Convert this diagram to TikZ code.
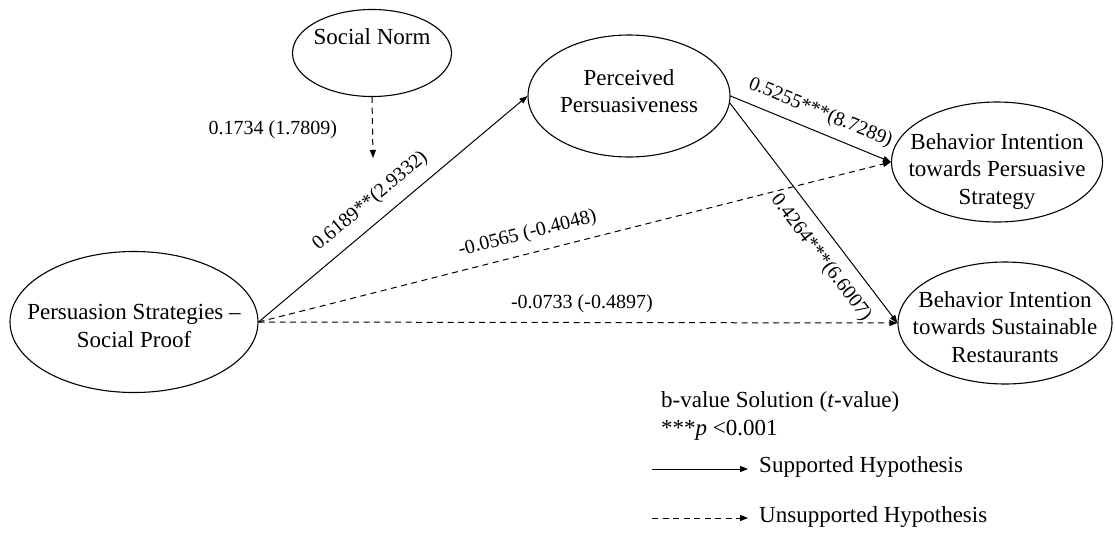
\documentclass[tikz,border=0pt]{standalone}
\usepackage{fontspec}
\setmainfont{Liberation Serif}
\usetikzlibrary{shapes.geometric,arrows.meta}
\begin{document}
\begin{tikzpicture}[x=1pt,y=-1pt,
  construct/.style={ellipse, draw, line width=1.1pt, inner sep=0pt},
  ctext/.style={font=\fontsize{23}{27.5}\selectfont, align=center, inner sep=0pt},
  supported/.style={line width=1pt, -{Triangle[length=8pt,width=6pt]}},
  unsupported/.style={supported, dash pattern=on 6pt off 4.5pt},
  coef/.style={font=\fontsize{20}{24}\selectfont, inner sep=0pt},
  legendtext/.style={font=\fontsize{23}{27.5}\selectfont, anchor=west, inner sep=0pt}
]
\useasboundingbox (0,0) rectangle (1115,533);

% constructs
\node[construct, minimum width=159pt, minimum height=87pt,
      label={[ctext, yshift=16pt]center:Social Norm}] (sn) at (372,53) {};
\node[construct, minimum width=202pt, minimum height=122pt,
      label={[ctext, yshift=5pt]center:Perceived\\Persuasiveness}] (pp) at (629,96) {};
\node[construct, minimum width=211pt, minimum height=120pt,
      label={[ctext, yshift=-9pt]center:Behavior Intention\\towards Persuasive\\Strategy}] (bips) at (997,162) {};
\node[construct, minimum width=248pt, minimum height=141pt,
      label={[ctext, yshift=-4pt]center:Persuasion Strategies --\\Social Proof}] (ps) at (134,322) {};
\node[construct, minimum width=214pt, minimum height=122pt,
      label={[ctext, yshift=-4pt]center:Behavior Intention\\towards Sustainable\\Restaurants}] (bisr) at (1005,323) {};

% paths
\coordinate (snend) at (373,158);
\draw[unsupported] (sn.south) -- node[coef, pos=.54, left=35pt] {0.1734 (1.7809)} (snend);

\draw[supported] (ps.east) -- node[coef, sloped, pos=.465, above=11pt] {0.6189**(2.9332)} (pp.west);
\draw[unsupported] (ps.east) -- node[coef, sloped, pos=.433, above=10pt] {-0.0565 (-0.4048)} (bips.west);
\draw[unsupported] (ps.east) -- node[coef, sloped, pos=.506, above=9pt] {-0.0733 (-0.4897)} (bisr.west);
\draw[supported] (pp.east) -- node[coef, sloped, pos=.516, above=9pt] {0.5255***(8.7289)} (bips.west);
\draw[supported] (pp.-4) -- node[coef, sloped, pos=.645, below=12pt] {0.4264***(6.6007)} (bisr.west);

% legend
\node[legendtext] (note1) at (661,402) {b-value Solution (\textit{t}-value)};
\node[legendtext] (note2) at (661,430) {***\textit{p} <0.001};
\coordinate (s0) at (652,469);
\coordinate (s1) at (748,469);
\draw[supported] (s0) -- (s1);
\node[legendtext] (stxt) at (759,467) {Supported Hypothesis};
\coordinate (u0) at (652,518);
\coordinate (u1) at (748,518);
\draw[unsupported] (u0) -- (u1);
\node[legendtext] (utxt) at (759,517) {Unsupported Hypothesis};
\end{tikzpicture}
\end{document}
